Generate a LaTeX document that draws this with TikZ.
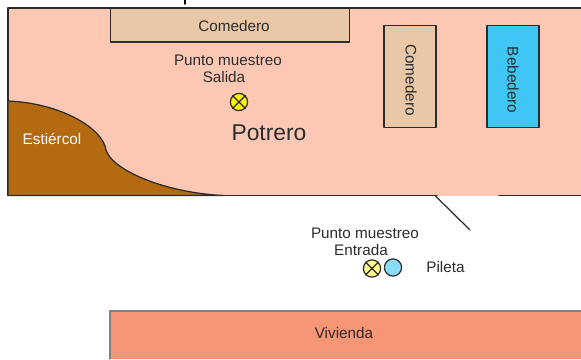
\documentclass[tikz,border=0pt]{standalone}
\usepackage{fontspec}
\setmainfont{Liberation Sans}
\definecolor{potrero}{HTML}{FCC8B4}
\definecolor{comida}{HTML}{E8C8A6}
\definecolor{agua}{HTML}{3FC6F4}
\definecolor{estiercol}{HTML}{B36A10}
\definecolor{vivienda}{HTML}{F79676}
\definecolor{tinta}{HTML}{2B2B2B}
\tikzset{
	comederobox/.style={draw=tinta, line width=.7pt, fill=comida, minimum width=#1, inner sep=0pt},
	muestreo/.style={draw=tinta, line width=.7pt, circle, minimum size=9.8pt, inner sep=0pt},
	rotulo/.style={font=\fontsize{8.7}{10}\selectfont, text=tinta, align=center, inner sep=0pt},
}
\begin{document}
\begin{tikzpicture}[x=.02cm, y=-.02cm, line cap=round, line join=round]
	\useasboundingbox (0,0) rectangle (581,359);
	% potrero
	\fill[potrero] (8,8) rectangle (581,195.5);
	\draw[tinta, line width=.7pt] (581,8)--(8,8)--(8,195.5)--(437,195.5) (499,195.5)--(581,195.5);
	\fill[estiercol] (8,101) .. controls (60,103) and (103,128) .. (106,150) .. controls (112,170) and (165,193) .. (224,195.5) -- (8,195.5) -- cycle;
	\draw[tinta, line width=.7pt] (8,101) .. controls (60,103) and (103,128) .. (106,150) .. controls (112,170) and (165,193) .. (224,195.5) -- (8,195.5) -- cycle;
	\draw[black, line width=1pt] (185,0)--(185,4);
	% comederos y bebedero
	\node[comederobox=136pt, minimum height=19.3pt, rotulo] (comederoA) at (230,25) {};
	\node[rotulo] (textoA) at (234,26) {Comedero};
	\node[comederobox=29.5pt, minimum height=58.4pt, rotulo] (comederoB) at (410,76.5) {};
	\node[rotulo, rotate=-90] (textoB) at (411,80) {Comedero};
	\node[comederobox=29.5pt, fill=agua, minimum height=58.4pt, rotulo] (bebedero) at (513,76.5) {};
	\node[rotulo, rotate=-90] (textoC) at (513,80) {Bebedero};
	% textos
	\node[rotulo] (salida) at (228,69) {Punto muestreo\\[-.2pt]Salida\hspace*{.16cm}};
	\node[rotulo, text=white] (textoE) at (52,139) {Estiércol};
	\node[rotulo, font=\fontsize{13}{15}\selectfont] (textoP) at (269,133) {Potrero};
	\node[rotulo] (entrada) at (365,242) {Punto muestreo\\[-.2pt]Entrada\hspace*{.16cm}};
	\node[rotulo] (textoL) at (445.5,267) {Pileta};
	% puntos de muestreo
	\node[muestreo, fill=yellow] (puntoS) at (239,102) {};
	\draw[tinta, line width=.7pt] (puntoS.45)--(puntoS.225) (puntoS.135)--(puntoS.315);
	\node[muestreo, fill=yellow!45!white] (puntoE) at (372,268.5) {};
	\draw[tinta, line width=.7pt] (puntoE.45)--(puntoE.225) (puntoE.135)--(puntoE.315);
	\node[muestreo, fill=agua!62!white] (pileta) at (393,267.5) {};
	% puerta
	\coordinate (P1) at (435,195.5);
	\coordinate (P2) at (470,230);
	\draw[tinta, line width=.7pt] (P1)--(P2);
	% vivienda
	\fill[vivienda] (110,311) rectangle (581,359);
	\draw[tinta!60, line width=.6pt] (110,359)--(110,311)--(581,311);
	\node[rotulo] (textoV) at (344,333) {Vivienda};
\end{tikzpicture}
\end{document}
